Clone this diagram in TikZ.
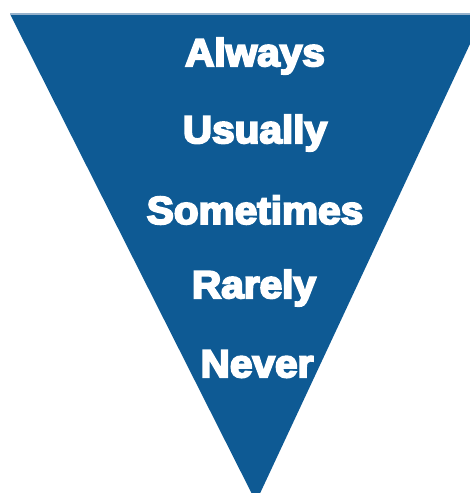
\documentclass[tikz,border=0pt]{standalone}
\usepackage{fontspec}
\newfontfamily\heavyfont[FakeBold=5]{Liberation Sans Bold}
\usepackage{xcolor}
\definecolor{funnelblue}{RGB}{14,90,148}
\definecolor{rimblue}{RGB}{150,178,204}

\begin{document}
\begin{tikzpicture}[x=1pt, y=1pt,
  word/.style={text=white, font=\heavyfont\fontsize{39}{39}\selectfont, xscale=1.04, transform shape}]
  \useasboundingbox (0,0) rectangle (470,-493);
  \clip (0,0) rectangle (470,-493);

  \coordinate (TL) at (10,-14);
  \coordinate (TR) at (484,-14);
  \coordinate (B) at (256,-502);

  \fill[funnelblue] (TL) -- (TR) -- (B) -- cycle;
  \draw[rimblue, line width=1.2pt] (TL) -- (TR);

  \node[word] (always) at (255,-56) {Always};
  \node[word] (usually) at (255,-133) {Usually};
  \node[word] (sometimes) at (255,-210) {Sometimes};
  \node[word] (rarely) at (254,-288) {Rarely};
  \node[word] (never) at (257,-364) {Never};
\end{tikzpicture}
\end{document}
